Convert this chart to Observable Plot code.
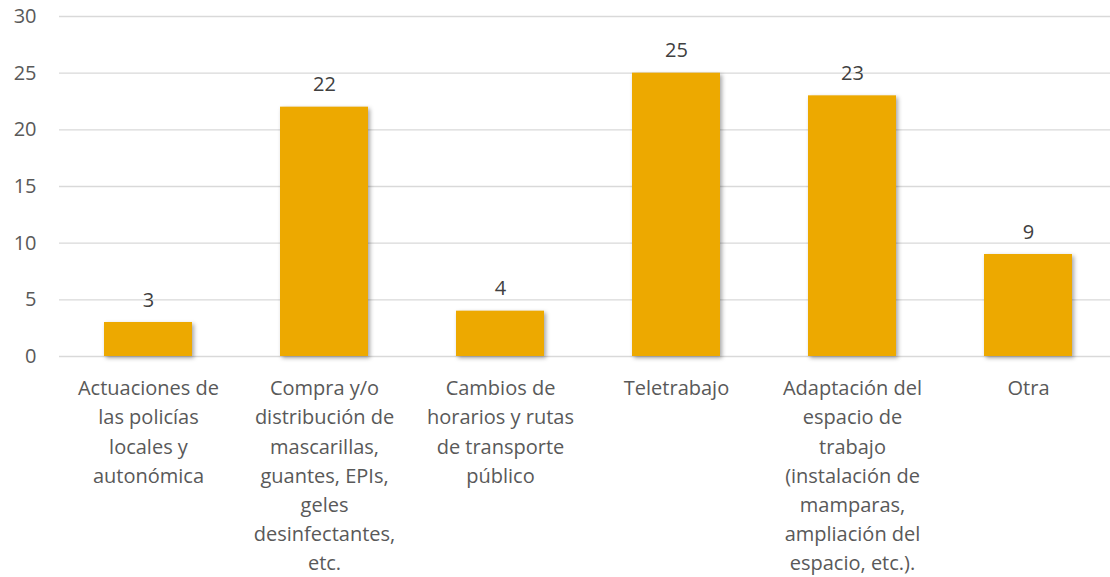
<!DOCTYPE html>
<html>
<head>
<meta charset="utf-8">
<script src="https://cdn.jsdelivr.net/npm/d3@7"></script>
<script src="https://cdn.jsdelivr.net/npm/@observablehq/plot@0.6"></script>
<style>
  body { margin: 0; background: #fff; }
  #chart { width: 1110px; height: 577px; overflow: hidden; }
  .bars { filter: drop-shadow(2px 2px 2px rgba(0,0,0,0.35)); }
</style>
</head>
<body>
<div id="chart"></div>
<script>
const categories = [
  "Actuaciones de\nlas policías\nlocales y\nautonómica",
  "Compra y/o\ndistribución de\nmascarillas,\nguantes, EPIs,\ngeles\ndesinfectantes,\netc.",
  "Cambios de\nhorarios y rutas\nde transporte\npúblico",
  "Teletrabajo",
  "Adaptación del\nespacio de\ntrabajo\n(instalación de\nmamparas,\nampliación del\nespacio, etc.).",
  "Otra"
];
const values = [3, 22, 4, 25, 23, 9];
const yTicks = [0, 5, 10, 15, 20, 25, 30];

const data = categories.map((c, i) => ({category: c, value: values[i]}));

const font = "'Open Sans', Lato, sans-serif";

const chart = Plot.plot({
  width: 1110,
  height: 577,
  marginTop: 16,
  marginBottom: 221,
  marginLeft: 59,
  marginRight: -7,
  style: {fontFamily: font, fontSize: "20px", color: "#595959", background: "#fff", overflow: "hidden"},
  x: {domain: categories, paddingInner: 0.5, paddingOuter: 0.25, label: null},
  y: {domain: [0, 30], ticks: yTicks, label: null},
  marks: [
    Plot.gridY(yTicks, {stroke: "#D9D9D9", strokeOpacity: 1, strokeWidth: 1.3}),
    Plot.barY(data, {x: "category", y: "value", fill: "#EDA900", className: "bars"}),
    Plot.text(data, {x: "category", y: "value", text: d => String(d.value), lineAnchor: "bottom", dy: -16, fill: "#404040", fontSize: 20}),
    Plot.axisY(yTicks, {tickSize: 0, tickPadding: 23, fill: "#595959", fontSize: 20}),
    Plot.axisX({tickSize: 0, tickPadding: 18, fill: "#595959", fontSize: 20, lineHeight: 1.46, lineAnchor: "top"})
  ]
});
document.getElementById("chart").appendChild(chart);
</script>
</body>
</html>
